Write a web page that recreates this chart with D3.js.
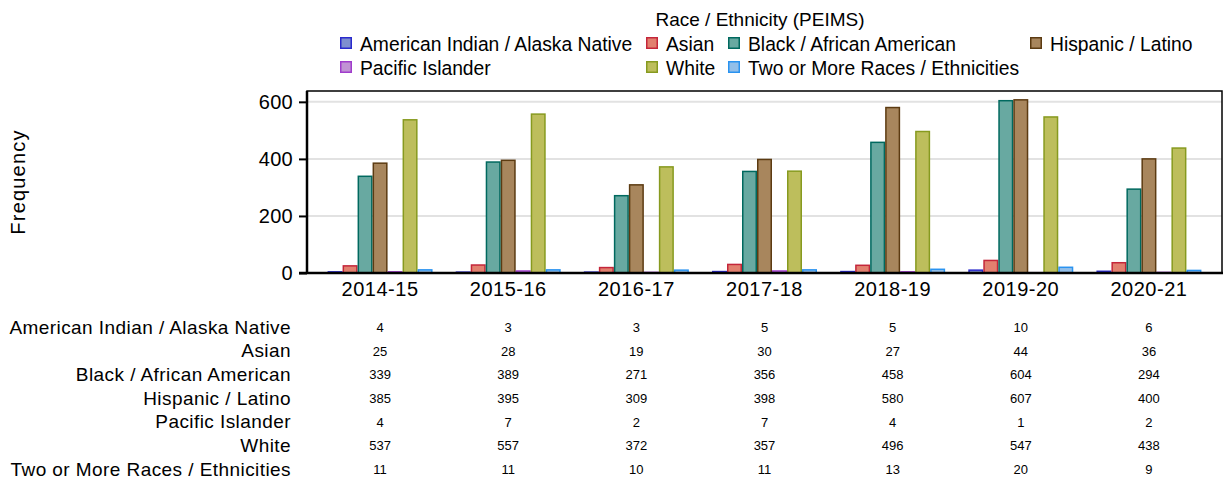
<!DOCTYPE html>
<html><head><meta charset="utf-8">
<script src="https://cdn.jsdelivr.net/npm/d3@7"></script>
<style>body{margin:0;background:#fff}svg{display:block;font-family:"Liberation Sans",Arial,sans-serif}</style>
</head><body><svg id="c" width="1225" height="479"></svg>
<script>
const years = ["2014-15","2015-16","2016-17","2017-18","2018-19","2019-20","2020-21"];
const groups = ["American Indian / Alaska Native","Asian","Black / African American","Hispanic / Latino","Pacific Islander","White","Two or More Races / Ethnicities"];
const amInd    = [4,3,3,5,5,10,6];
const asian    = [25,28,19,30,27,44,36];
const black    = [339,389,271,356,458,604,294];
const hispanic = [385,395,309,398,580,607,400];
const pacific  = [4,7,2,7,4,1,2];
const white    = [537,557,372,357,496,547,438];
const twoMore  = [11,11,10,11,13,20,9];
const yTicks = [0,200,400,600];
const legendTitle = "Race / Ethnicity (PEIMS)";
const yTitle = "Frequency";

const series = [amInd,asian,black,hispanic,pacific,white,twoMore];
const fills   = ["#7e8fcf","#e2806f","#68a9a1","#a8865d","#c193d4","#bdbe5c","#93bfe9"];
const strokes = ["#2a2acc","#c4263a","#00695f","#5c3b12","#a03ccc","#879a1f","#2a93f0"];

const svg = d3.select("#c");
const L = 307, R = 1222, T = 91, B = 273;
const x = d3.scaleBand().domain(years).range([L+9, R-9]);
const xi = d3.scaleBand().domain(d3.range(7)).range([0,105]);
const y = d3.scaleLinear().domain([0, 638]).range([B, T]);

// grid
svg.append("g").selectAll("line").data(yTicks.filter(d=>d>0)).join("line")
  .attr("x1",L).attr("x2",R).attr("y1",d=>y(d)).attr("y2",d=>y(d))
  .attr("stroke","#e2e2e2").attr("stroke-width",2);

// bars
const g = svg.append("g");
years.forEach((yr,i)=>{
  const x0 = x(yr) + x.bandwidth()/2 - 52.5;
  series.forEach((s,k)=>{
    const v = s[i];
    g.append("rect")
      .attr("x", x0 + xi(k) + 0.75)
      .attr("y", y(v))
      .attr("width", xi.bandwidth() - 1.5)
      .attr("height", Math.max(0, B - y(v)))
      .attr("fill", fills[k]).attr("stroke", strokes[k]).attr("stroke-width",1.5);
  });
});

// frame
svg.append("rect").attr("x",L).attr("y",T).attr("width",R-L).attr("height",B-T)
  .attr("fill","none").attr("stroke","#000").attr("stroke-width",1.5);
svg.append("line").attr("x1",L).attr("x2",L).attr("y1",T).attr("y2",B).attr("stroke","#000").attr("stroke-width",2.5);
svg.append("line").attr("x1",L-8).attr("x2",R+1).attr("y1",B).attr("y2",B).attr("stroke","#000").attr("stroke-width",2.5);

const FF = "Liberation Sans, Arial, sans-serif";
// y axis
const ya = svg.append("g").attr("transform",`translate(${L},0)`)
  .call(d3.axisLeft(y).tickValues(yTicks).tickSize(8).tickPadding(6));
ya.select(".domain").remove();
ya.selectAll(".tick line").attr("stroke","#000").attr("stroke-width",2);
ya.selectAll("text").attr("font-size",20).attr("fill","#000").attr("font-family",FF)
  .attr("letter-spacing",0.3);

// x axis labels
const xa = svg.append("g").attr("transform",`translate(0,${B})`)
  .call(d3.axisBottom(x).tickSize(0).tickPadding(9));
xa.select(".domain").remove();
xa.selectAll("text").attr("font-size",20).attr("fill","#000").attr("font-family",FF)
  .attr("letter-spacing",0.5);

// y title
svg.append("text").attr("transform","translate(25,182) rotate(-90)")
  .attr("text-anchor","middle").attr("font-size",20).attr("letter-spacing",1.2).text(yTitle);

// legend
svg.append("text").attr("x",760).attr("y",26).attr("text-anchor","middle").attr("font-size",19).text(legendTitle);
const legPos = [[340,44],[646,44],[728,44],[1030,44],[340,68],[646,68],[728,68]];
groups.forEach((gname,k)=>{
  const [lx,ly] = legPos[k];
  svg.append("rect").attr("x",lx+0.75).attr("y",ly-6.25).attr("width",10.5).attr("height",10.5)
    .attr("fill",fills[k]).attr("stroke",strokes[k]).attr("stroke-width",1.5);
  svg.append("text").attr("x",lx+20).attr("y",ly+6.5).attr("font-size",19.3).text(gname);
});

// data table
const rowY = d3.scalePoint().domain(groups).range([327,469]);
groups.forEach((gname,k)=>{
  svg.append("text").attr("x",291).attr("y",rowY(gname)+6.5).attr("text-anchor","end")
    .attr("font-size",19).attr("letter-spacing",0.43).text(gname);
  years.forEach((yr,i)=>{
    svg.append("text").attr("x",x(yr)+x.bandwidth()/2).attr("y",rowY(gname)+5)
      .attr("text-anchor","middle").attr("font-size",13).text(series[k][i]);
  });
});
</script></body></html>
